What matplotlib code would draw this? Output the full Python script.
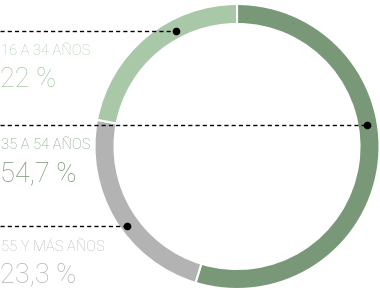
import matplotlib.pyplot as plt

# data
groups = ['35 A 54 AÑOS', '55 Y MÁS AÑOS', '16 A 34 AÑOS']
shares = [54.7, 23.3, 22.0]
value_labels = ['54,7 %', '23,3 %', '22 %']
colors = ['#789878', '#b3b3b3', '#a8c8a8']

W, H = 380, 290
fig = plt.figure(figsize=(W / 100, H / 100), dpi=100)
ax = fig.add_axes([0, 0, 1, 1])

cx, cy = 237, H - 146.5
R, ring = 142.5, 20
ax.pie(shares, colors=colors, startangle=90, counterclock=False,
       center=(cx, cy), radius=R, frame=True,
       wedgeprops=dict(width=ring, edgecolor='white', linewidth=1.5))
ax.set_xlim(0, W)
ax.set_ylim(0, H)
ax.axis('off')

plt.rcParams['font.family'] = ['Roboto', 'DejaVu Sans']

# leader line ends (pixels from top-left) and text baselines
lead_x = [367, 127, 176]
lead_y = [125, 226, 31]
label_base = [149, 251, 55]
value_base = [181, 282, 87]

for i in range(len(groups)):
    y = H - lead_y[i]
    x = lead_x[i]
    ax.plot([0, x], [y, y], color='black', lw=1, ls=(0, (3, 2.2)))
    ax.plot(x, y, 'o', color='black', ms=4.5)
    ax.text(1, H - label_base[i], groups[i], color=colors[i], fontsize=10.6,
            fontweight='light', va='baseline', ha='left')
    ax.text(0, H - value_base[i], value_labels[i], color=colors[i], fontsize=19.5,
            fontweight='light', va='baseline', ha='left')

fig.savefig('out.png', dpi=100)
